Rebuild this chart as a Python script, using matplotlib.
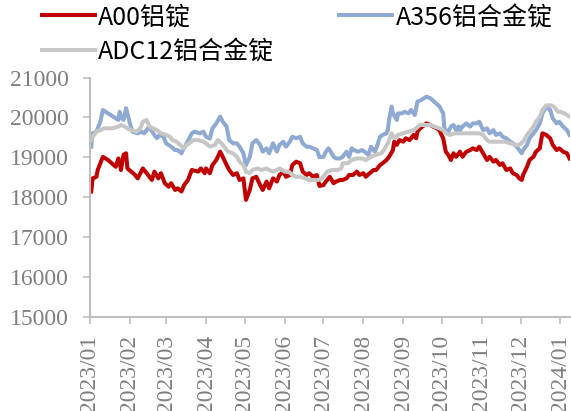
import numpy as np
import pandas as pd
import matplotlib
matplotlib.use("Agg")
import matplotlib.pyplot as plt
import matplotlib.dates as mdates

# day offsets from 2023-01-01 and prices (yuan/t)
a00_day = [1, 2, 5, 6, 10, 14, 20, 22, 23, 24, 26, 28, 29, 32, 35, 37, 41, 44, 48, 50,
           53, 55, 58, 61, 63, 66, 68, 71, 73, 76, 79, 84, 86, 89, 90, 93, 95, 98, 101, 103,
           106, 108, 111, 114, 116, 119, 121, 124, 126, 129, 132, 134, 137, 139, 142, 145, 147, 150, 152, 155,
           157, 160, 163, 165, 168, 170, 173, 176, 178, 181, 183, 186, 189, 191, 194, 196, 199, 201, 204, 207,
           209, 212, 214, 217, 220, 222, 225, 227, 230, 232, 235, 236, 238, 240, 243, 245, 248, 251, 253, 254,
           256, 258, 261, 264, 266, 269, 271, 274, 276, 278, 280, 282, 284, 287, 289, 292, 295, 297, 300, 302,
           305, 308, 310, 313, 315, 318, 320, 323, 326, 328, 331, 333, 335, 336, 339, 341, 344, 346, 349, 350,
           351, 354, 357, 359, 362, 364, 367, 370, 372]
a00_val = [18140, 18470, 18510, 18680, 19010, 18930, 18760, 18970, 18890, 18680, 19060, 19100, 18720, 18640, 18555, 18470, 18720, 18600, 18430, 18640,
           18470, 18600, 18350, 18260, 18350, 18180, 18220, 18140, 18300, 18430, 18680, 18640, 18720, 18600, 18720, 18600, 18805, 18930, 19140, 19010,
           18805, 18680, 18555, 18600, 18430, 18470, 17930, 18180, 18470, 18510, 18300, 18180, 18390, 18220, 18470, 18390, 18555, 18640, 18510, 18555,
           18805, 18890, 18850, 18640, 18555, 18600, 18510, 18555, 18280, 18300, 18390, 18510, 18350, 18390, 18430, 18430, 18470, 18555, 18555, 18640,
           18555, 18600, 18510, 18600, 18680, 18680, 18805, 18850, 18930, 19010, 19180, 19390, 19310, 19430, 19390, 19475, 19430, 19560, 19475, 19640,
           19725, 19770, 19850, 19810, 19770, 19725, 19680, 19475, 19140, 19060, 18930, 19100, 19010, 19140, 19010, 19140, 19180, 19225, 19180, 19265,
           19100, 18930, 19010, 18890, 18930, 18805, 18850, 18680, 18720, 18600, 18555, 18470, 18430, 18555, 18760, 18930, 19010, 19140, 19225, 19430,
           19600, 19560, 19475, 19310, 19180, 19225, 19140, 19100, 18970]

a356_day = [1, 2, 5, 8, 10, 14, 18, 22, 23, 24, 26, 28, 29, 31, 33, 37, 40, 42, 44, 46,
            49, 52, 54, 57, 59, 63, 66, 68, 71, 72, 75, 77, 79, 81, 85, 88, 90, 93, 95, 98,
            101, 103, 106, 108, 111, 114, 116, 119, 121, 124, 126, 129, 132, 134, 137, 139, 142, 145, 147, 150,
            152, 155, 157, 160, 163, 165, 168, 170, 173, 176, 178, 181, 183, 185, 186, 189, 191, 194, 196, 199,
            201, 203, 205, 208, 211, 213, 216, 218, 221, 223, 225, 227, 230, 231, 232, 234, 235, 238, 239, 242,
            244, 247, 249, 252, 254, 257, 261, 264, 267, 271, 274, 275, 278, 280, 282, 284, 286, 287, 289, 292,
            295, 297, 300, 302, 305, 308, 310, 313, 315, 318, 320, 323, 326, 328, 331, 333, 335, 336, 339, 341,
            344, 346, 349, 351, 354, 357, 359, 362, 364, 367, 370, 372]
a356_val = [19265, 19600, 19640, 19890, 20186, 20100, 20020, 19935, 20140, 20020, 19935, 20230, 20100, 19850, 19640, 19600, 19640, 19600, 19680, 19770,
            19600, 19475, 19560, 19515, 19350, 19265, 19180, 19180, 19100, 19180, 19350, 19475, 19600, 19640, 19600, 19640, 19515, 19470, 19725, 19850,
            20020, 19890, 19770, 19430, 19350, 19350, 19265, 19100, 18805, 19010, 19350, 19430, 19310, 19140, 19225, 19100, 19350, 19140, 19310, 19390,
            19265, 19390, 19515, 19475, 19515, 19350, 19265, 19265, 19225, 19180, 19000, 19010, 19140, 19225, 19180, 19010, 18970, 18970, 19010, 19140,
            19010, 19225, 19180, 19140, 19180, 19140, 19060, 19265, 19140, 19310, 19515, 19560, 19600, 19680, 19935, 20270, 20100, 19935, 20100, 20100,
            20140, 20100, 20186, 20060, 20395, 20437, 20520, 20480, 20395, 20280, 20100, 19700, 19640, 19770, 19810, 19680, 19770, 19680, 19770, 19850,
            19770, 19850, 19850, 19890, 19680, 19725, 19600, 19680, 19560, 19600, 19515, 19475, 19390, 19350, 19265, 19180, 19100, 19180, 19310, 19475,
            19600, 19680, 19850, 20100, 20270, 20186, 19975, 19850, 19890, 19770, 19680, 19560]

adc12_day = [1, 2, 5, 8, 11, 17, 22, 24, 27, 29, 32, 36, 39, 41, 44, 46, 49, 52, 55, 59,
             62, 64, 67, 70, 72, 75, 77, 80, 84, 88, 90, 93, 97, 99, 102, 105, 107, 111, 114, 116,
             119, 121, 124, 126, 130, 133, 137, 139, 142, 145, 147, 151, 154, 157, 160, 163, 167, 170, 174, 177,
             180, 181, 184, 188, 192, 195, 196, 200, 203, 207, 211, 214, 218, 222, 226, 228, 231, 234, 236, 239,
             243, 247, 251, 253, 256, 260, 264, 267, 271, 274, 276, 279, 283, 292, 302, 305, 308, 310, 322, 326,
             330, 333, 336, 339, 341, 344, 346, 349, 351, 354, 358, 360, 363, 365, 368, 372]
adc12_val = [19430, 19515, 19640, 19680, 19725, 19725, 19770, 19810, 19770, 19725, 19680, 19640, 19725, 19890, 19935, 19770, 19725, 19680, 19600, 19560,
             19515, 19430, 19390, 19310, 19225, 19310, 19350, 19430, 19430, 19390, 19350, 19265, 19310, 19430, 19350, 19225, 19140, 19100, 19010, 18890,
             18805, 18640, 18600, 18680, 18720, 18680, 18720, 18680, 18640, 18680, 18720, 18640, 18640, 18555, 18510, 18510, 18470, 18430, 18430, 18430,
             18470, 18510, 18640, 18680, 18680, 18720, 18850, 18850, 18930, 18970, 18970, 18930, 19010, 19060, 19100, 19180, 19350, 19600, 19475, 19560,
             19600, 19640, 19680, 19725, 19810, 19810, 19810, 19770, 19725, 19680, 19600, 19560, 19600, 19600, 19600, 19560, 19430, 19390, 19390, 19350,
             19310, 19310, 19390, 19560, 19640, 19770, 19890, 20020, 20186, 20300, 20300, 20270, 20140, 20140, 20100, 20020]

start = pd.Timestamp("2023-01-01")
a00_dates = start + pd.to_timedelta(a00_day, unit="D")
a356_dates = start + pd.to_timedelta(a356_day, unit="D")
adc12_dates = start + pd.to_timedelta(adc12_day, unit="D")

plt.rcParams['font.family'] = ['Noto Sans CJK SC', 'DejaVu Sans']
axis_grey = "#bfbfbf"
text_grey = "#7f7f7f"

fig = plt.figure(figsize=(5.71, 4.11), dpi=100)
ax = fig.add_axes([0.1576, 0.2294, 0.8398, 0.582])

l1, = ax.plot(a00_dates, a00_val, color="#c00000", lw=2.9, label="A00铝锭")
l2, = ax.plot(a356_dates, a356_val, color="#8eaad2", lw=2.9, label="A356铝合金锭")
l3, = ax.plot(adc12_dates, adc12_val, color="#c6c6c6", lw=2.9, label="ADC12铝合金锭")

ax.set_ylim(15000, 21000)
ax.set_yticks(range(15000, 21001, 1000))
ax.set_xlim(start, start + pd.Timedelta(days=372))
ax.xaxis.set_major_locator(mdates.MonthLocator())
ax.xaxis.set_major_formatter(mdates.DateFormatter("%Y/%m"))

for side in ["top", "right"]:
    ax.spines[side].set_visible(False)
for side in ["left", "bottom"]:
    ax.spines[side].set_color(axis_grey)
    ax.spines[side].set_linewidth(1.5)

ax.tick_params(axis="both", colors=axis_grey, width=1.2, length=5, direction="out")
ax.tick_params(axis="y", pad=10, labelcolor=text_grey)
ax.tick_params(axis="x", pad=8, labelcolor=text_grey, labelrotation=90)
for lbl in ax.get_xticklabels() + ax.get_yticklabels():
    lbl.set_fontfamily("Liberation Serif")
    lbl.set_fontsize(17)

# legend filled column by column, so order handles to read row by row
handles = [l1, l3, l2]
fig.legend(handles, [h.get_label() for h in handles], loc="upper left",
           bbox_to_anchor=(0.0736, 0.99), ncol=2, frameon=False,
           fontsize=18, handlelength=2.1, handletextpad=0.15, columnspacing=2.6,
           labelspacing=0.35, borderpad=0, borderaxespad=0)

fig.savefig("out.png", dpi=100)
